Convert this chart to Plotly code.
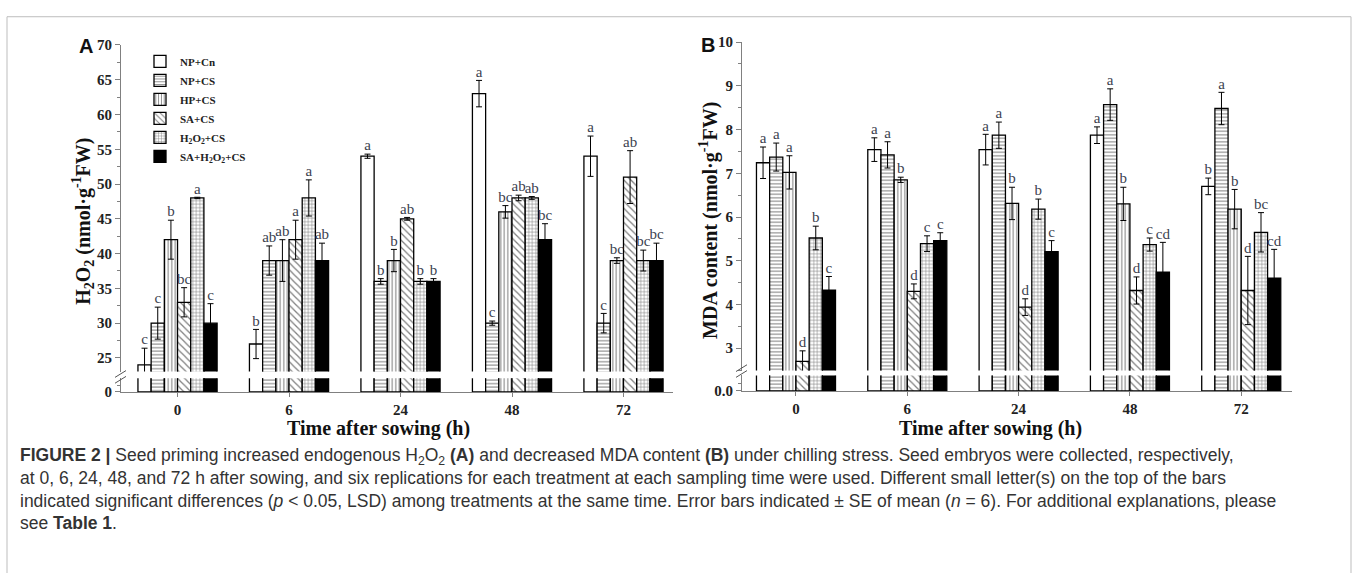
import plotly.graph_objects as go

W, H = 1358, 573

# sampling times (h) and treatments
times = ["0", "6", "24", "48", "72"]
treatments = ["NP+Cn", "NP+CS", "HP+CS", "SA+CS",
              "H<sub>2</sub>O<sub>2</sub>+CS", "SA+H<sub>2</sub>O<sub>2</sub>+CS"]

# H2O2 content (nmol g-1 FW), mean per treatment across sampling times
h2o2_np_cn = [24, 27, 54, 63, 54]
h2o2_np_cs = [30, 39, 36, 30, 30]
h2o2_hp_cs = [42, 39, 39, 46, 39]
h2o2_sa_cs = [33, 42, 45, 48, 51]
h2o2_h2o2_cs = [48, 48, 36, 48, 39]
h2o2_sa_h2o2_cs = [30, 39, 36, 42, 39]

# H2O2 standard errors
h2o2_se_np_cn = [2.4, 2.1, 0.3, 1.9, 2.9]
h2o2_se_np_cs = [2.3, 2.1, 0.4, 0.3, 1.4]
h2o2_se_hp_cs = [2.8, 3.0, 1.6, 0.9, 0.4]
h2o2_se_sa_cs = [2.1, 2.8, 0.2, 0.4, 3.8]
h2o2_se_h2o2_cs = [0.1, 2.6, 0.4, 0.2, 1.5]
h2o2_se_sa_h2o2_cs = [2.8, 2.5, 0.4, 2.3, 2.5]

# H2O2 significance letters
h2o2_sig_np_cn = ["c", "b", "a", "a", "a"]
h2o2_sig_np_cs = ["c", "ab", "b", "c", "c"]
h2o2_sig_hp_cs = ["b", "ab", "b", "bc", "bc"]
h2o2_sig_sa_cs = ["bc", "a", "ab", "ab", "ab"]
h2o2_sig_h2o2_cs = ["a", "a", "b", "ab", "bc"]
h2o2_sig_sa_h2o2_cs = ["c", "ab", "b", "bc", "bc"]

# MDA content (nmol g-1 FW)
mda_np_cn = [7.24, 7.54, 7.54, 7.87, 6.70]
mda_np_cs = [7.37, 7.42, 7.87, 8.57, 8.48]
mda_hp_cs = [7.02, 6.85, 6.31, 6.30, 6.18]
mda_sa_cs = [2.70, 4.30, 3.94, 4.32, 4.32]
mda_h2o2_cs = [5.52, 5.39, 6.18, 5.37, 5.65]
mda_sa_h2o2_cs = [4.33, 5.46, 5.21, 4.74, 4.60]

# MDA standard errors
mda_se_np_cn = [0.36, 0.27, 0.35, 0.19, 0.19]
mda_se_np_cs = [0.32, 0.30, 0.30, 0.36, 0.37]
mda_se_hp_cs = [0.38, 0.06, 0.37, 0.38, 0.45]
mda_se_sa_cs = [0.24, 0.17, 0.19, 0.31, 0.78]
mda_se_h2o2_cs = [0.27, 0.18, 0.23, 0.15, 0.45]
mda_se_sa_h2o2_cs = [0.31, 0.18, 0.25, 0.68, 0.66]

# MDA significance letters
mda_sig_np_cn = ["a", "a", "a", "a", "b"]
mda_sig_np_cs = ["a", "a", "a", "a", "a"]
mda_sig_hp_cs = ["a", "b", "b", "b", "b"]
mda_sig_sa_cs = ["d", "d", "d", "d", "d"]
mda_sig_h2o2_cs = ["b", "c", "b", "c", "bc"]
mda_sig_sa_h2o2_cs = ["c", "c", "c", "cd", "cd"]

h2o2_means = [h2o2_np_cn, h2o2_np_cs, h2o2_hp_cs, h2o2_sa_cs, h2o2_h2o2_cs, h2o2_sa_h2o2_cs]
h2o2_ses = [h2o2_se_np_cn, h2o2_se_np_cs, h2o2_se_hp_cs, h2o2_se_sa_cs, h2o2_se_h2o2_cs, h2o2_se_sa_h2o2_cs]
h2o2_sigs = [h2o2_sig_np_cn, h2o2_sig_np_cs, h2o2_sig_hp_cs, h2o2_sig_sa_cs, h2o2_sig_h2o2_cs, h2o2_sig_sa_h2o2_cs]
mda_means = [mda_np_cn, mda_np_cs, mda_hp_cs, mda_sa_cs, mda_h2o2_cs, mda_sa_h2o2_cs]
mda_ses = [mda_se_np_cn, mda_se_np_cs, mda_se_hp_cs, mda_se_sa_cs, mda_se_h2o2_cs, mda_se_sa_h2o2_cs]
mda_sigs = [mda_sig_np_cn, mda_sig_np_cs, mda_sig_hp_cs, mda_sig_sa_cs, mda_sig_h2o2_cs, mda_sig_sa_h2o2_cs]

# fill style of each treatment
styles = [
    dict(color="white"),
    dict(color="white", pattern=dict(shape="-", size=3.5, solidity=0.3, fgcolor="black", bgcolor="white")),
    dict(color="white", pattern=dict(shape="|", size=3.5, solidity=0.3, fgcolor="black", bgcolor="white")),
    dict(color="white", pattern=dict(shape="\\", size=5, solidity=0.25, fgcolor="black", bgcolor="white")),
    dict(color="white", pattern=dict(shape="+", size=3.5, solidity=0.3, fgcolor="black", bgcolor="white")),
    dict(color="black"),
]

SERIF = "Liberation Serif"
SANS = "Liberation Sans"
AXIS_GREY = "#808080"
LETTER_COLOR = "#3c3f50"
BARGAP = 0.29
n_tr = len(treatments)
bar_w = (1 - BARGAP) / n_tr
x_pos = list(range(len(times)))


def fx(px):
    return px / W


def fy(py):
    return 1 - py / H


fig = go.Figure()

panels = [
    dict(means=h2o2_means, ses=h2o2_ses, sigs=h2o2_sigs, xu="x", yu="y", xl="x2", yl="y2", legend=True),
    dict(means=mda_means, ses=mda_ses, sigs=mda_sigs, xu="x3", yu="y3", xl="x4", yl="y4", legend=False),
]

for p in panels:
    for k in range(n_tr):
        marker = dict(line=dict(color="black", width=1.3), **styles[k])
        # upper segment of the broken axis, with error bars
        fig.add_trace(go.Bar(
            x=x_pos, y=p["means"][k], name=treatments[k], legendgroup=treatments[k],
            showlegend=p["legend"], marker=marker, xaxis=p["xu"], yaxis=p["yu"],
            error_y=dict(type="data", array=p["ses"][k], visible=True,
                         color="black", thickness=1, width=3),
        ))
        # lower segment near zero
        fig.add_trace(go.Bar(
            x=x_pos, y=p["means"][k], name=treatments[k], legendgroup=treatments[k],
            showlegend=False, marker=marker, xaxis=p["xl"], yaxis=p["yl"],
        ))
        # significance letters above the error bars
        off = (k - (n_tr - 1) / 2) * bar_w
        fig.add_trace(go.Scatter(
            x=[i + off for i in x_pos],
            y=[m + s for m, s in zip(p["means"][k], p["ses"][k])],
            text=p["sigs"][k], mode="text", textposition="top center",
            textfont=dict(family=SERIF, size=15, color=LETTER_COLOR),
            cliponaxis=False, showlegend=False, hoverinfo="skip",
            xaxis=p["xu"], yaxis=p["yu"],
        ))

tickfont = dict(family=SERIF, size=15, color="#222", weight="bold")

common_x = dict(showgrid=False, zeroline=False, fixedrange=True)
common_y = dict(showgrid=False, zeroline=False, showline=True, linecolor=AXIS_GREY,
                linewidth=1.2, ticks="outside", ticklen=5, tickcolor=AXIS_GREY,
                tickfont=tickfont, fixedrange=True)

xa_range = [-0.507, 4.444]
xb_range = [-0.485, 4.456]

fig.update_layout(
    width=W, height=H, autosize=False,
    margin=dict(l=0, r=0, t=0, b=0),
    paper_bgcolor="white", plot_bgcolor="rgba(0,0,0,0)",
    barmode="group", bargap=BARGAP, bargroupgap=0,
    xaxis=dict(domain=[fx(121), fx(673)], anchor="y", range=xa_range,
               showticklabels=False, showline=False, ticks="", **common_x),
    xaxis2=dict(domain=[fx(121), fx(673)], anchor="y2", range=xa_range,
                tickvals=x_pos, ticktext=times, ticks="outside", ticklen=4,
                tickcolor=AXIS_GREY, showline=True, linecolor=AXIS_GREY, linewidth=1.2,
                tickfont=tickfont, **common_x),
    yaxis=dict(domain=[fy(374), fy(38)], anchor="x", range=[23.04, 70],
               tick0=0, dtick=5, minor=dict(dtick=2.5, ticks="outside", ticklen=3,
                                            tickcolor=AXIS_GREY), **common_y),
    yaxis2=dict(domain=[fy(395), fy(381)], anchor="x2", range=[0, 1],
                tickvals=[0], ticktext=["0"],
                minor=dict(tickvals=[0.5], ticks="outside", ticklen=3, tickcolor=AXIS_GREY),
                **common_y),
    xaxis3=dict(domain=[fx(742), fx(1292)], anchor="y3", range=xb_range,
                showticklabels=False, showline=False, ticks="", **common_x),
    xaxis4=dict(domain=[fx(742), fx(1292)], anchor="y4", range=xb_range,
                tickvals=x_pos, ticktext=times, ticks="outside", ticklen=4,
                tickcolor=AXIS_GREY, showline=True, linecolor=AXIS_GREY, linewidth=1.2,
                tickfont=tickfont, **common_x),
    yaxis3=dict(domain=[fy(373), fy(35)], anchor="x3", range=[2.489, 10],
                tick0=0, dtick=1, minor=dict(dtick=0.5, ticks="outside", ticklen=3,
                                             tickcolor=AXIS_GREY), **common_y),
    yaxis4=dict(domain=[fy(394), fy(378)], anchor="x4", range=[0, 1],
                tickvals=[0], ticktext=["0.0"],
                minor=dict(tickvals=[0.5], ticks="outside", ticklen=3, tickcolor=AXIS_GREY),
                **common_y),
    legend=dict(x=fx(140), y=fy(40), xanchor="left", yanchor="top",
                bgcolor="rgba(0,0,0,0)", borderwidth=0, tracegroupgap=0,
                font=dict(family=SERIF, size=11, color="#222", weight="bold"),
                itemwidth=30),
    showlegend=True,
)

annotations = []


def text_at(px, py, text, size, family=SERIF, weight="bold", angle=0,
            xanchor="center", yanchor="middle", color="#111"):
    annotations.append(dict(
        x=fx(px), y=fy(py), xref="paper", yref="paper", text=text, showarrow=False,
        textangle=angle, xanchor=xanchor, yanchor=yanchor,
        font=dict(family=family, size=size, color=color, weight=weight),
    ))


# panel letters
text_at(86, 39, "A", 20, family=SANS)
text_at(708, 38, "B", 20, family=SANS)

# axis titles
text_at(83, 220, "H<sub>2</sub>O<sub>2</sub> (nmol·g<sup>-1</sup>FW)", 20, angle=-90)
text_at(709, 219, "MDA content (nmol·g<sup>-1</sup>FW)", 20, angle=-90)
text_at(378, 433, "Time after sowing (h)", 20)
text_at(990, 433, "Time after sowing (h)", 20)

# figure caption
caption = [
    "<b>FIGURE 2 |</b> Seed priming increased endogenous H<sub>2</sub>O<sub>2</sub> <b>(A)</b> "
    "and decreased MDA content <b>(B)</b> under chilling stress. Seed embryos were collected, respectively,",
    "at 0, 6, 24, 48, and 72 h after sowing, and six replications for each treatment at each "
    "sampling time were used. Different small letter(s) on the top of the bars",
    "indicated significant differences (<i>p</i> &lt; 0.05, LSD) among treatments at the same time. "
    "Error bars indicated ± SE of mean (<i>n</i> = 6). For additional explanations, please",
    "see <b>Table 1</b>.",
]
for j, line in enumerate(caption):
    text_at(18, 461 + 23 * j, line, 17.5, family=SANS, weight="normal",
            xanchor="left", color="#333")

fig.update_layout(annotations=annotations)

shapes = []
# outer frame
shapes.append(dict(type="rect", xref="paper", yref="paper",
                   x0=fx(7), x1=fx(1351), y0=-0.05, y1=fy(9),
                   line=dict(color="#bdbdbd", width=1), fillcolor="rgba(0,0,0,0)"))
# axis break marks
for ax_x, y_a, y_b in [(121, 380, 386), (742, 374, 380)]:
    for yy in (y_a, y_b):
        shapes.append(dict(type="line", xref="paper", yref="paper",
                           x0=fx(ax_x - 6), y0=fy(yy), x1=fx(ax_x + 5), y1=fy(yy - 7),
                           line=dict(color="#555", width=1)))
fig.update_layout(shapes=shapes)

fig.write_html("out.html", config={"displayModeBar": False})
